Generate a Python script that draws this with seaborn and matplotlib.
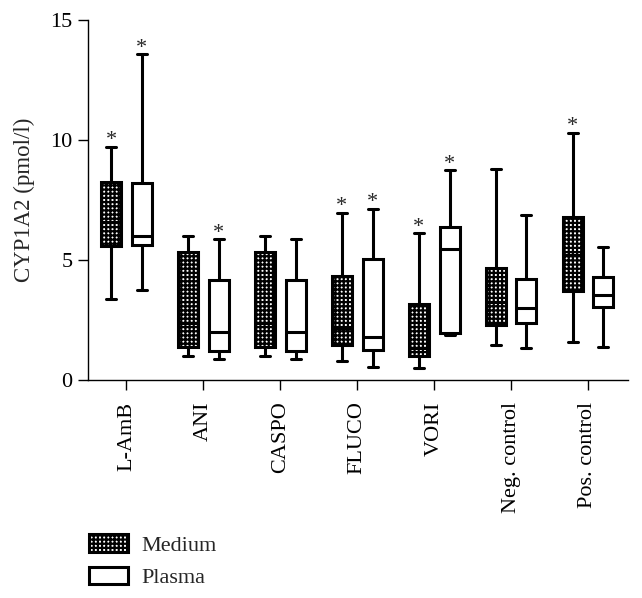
import pandas as pd
import numpy as np
import matplotlib
matplotlib.use('Agg')
import matplotlib.pyplot as plt
from matplotlib.patches import Patch
import seaborn as sns

# five-number summaries: min, q1, median, q3, max
drugs = ['L-AmB', 'ANI', 'CASPO', 'FLUCO', 'VORI', 'Neg. control', 'Pos. control']
groups = ['Medium', 'Plasma']

medium_stats = [
    [3.36, 5.58, 6.60, 8.26, 9.72],
    [1.00, 1.39, 2.36, 5.32, 6.01],
    [1.00, 1.39, 2.36, 5.32, 6.01],
    [0.80, 1.46, 2.15, 4.33, 6.97],
    [0.51, 1.01, 1.35, 3.17, 6.11],
    [1.46, 2.29, 3.26, 4.65, 8.79],
    [1.60, 3.72, 5.21, 6.78, 10.31],
]
plasma_stats = [
    [3.75, 5.62, 6.01, 8.19, 13.57],
    [0.86, 1.22, 2.01, 4.17, 5.86],
    [0.86, 1.22, 2.01, 4.17, 5.86],
    [0.56, 1.25, 1.81, 5.03, 7.14],
    [1.86, 1.94, 5.44, 6.39, 8.74],
    [1.32, 2.36, 3.00, 4.19, 6.89],
    [1.39, 3.03, 3.54, 4.31, 5.56],
]
# significance markers (*) above the top whisker
medium_sig = [True, False, False, True, True, False, True]
plasma_sig = [True, True, False, True, True, False, False]

# build long-form table
rows = []
for d, ms, ps in zip(drugs, medium_stats, plasma_stats):
    for v in ms:
        rows.append({'drug': d, 'group': 'Medium', 'value': v})
    for v in ps:
        rows.append({'drug': d, 'group': 'Plasma', 'value': v})
df = pd.DataFrame(rows)

sns.set_style('ticks')
plt.rcParams['font.family'] = ['Liberation Serif', 'DejaVu Serif']
plt.rcParams['hatch.linewidth'] = 1.6
plt.rcParams['hatch.color'] = 'black'

fig = plt.figure(figsize=(6.42, 5.98), dpi=100)
ax = fig.add_axes([88 / 642, 1 - 380 / 598, 540 / 642, 360 / 598])

sns.boxplot(data=df, x='drug', y='value', hue='group', order=drugs, hue_order=groups,
            palette={'Medium': 'white', 'Plasma': 'white'}, linecolor='black',
            linewidth=2.2, whis=(0, 100), width=0.8, gap=0.35, fliersize=0,
            legend=False, ax=ax)

# checkered look for the Medium boxes
for p in ax.patches:
    verts = p.get_path().vertices
    xc = verts[:, 0].mean()
    if xc < round(xc):
        p.set_hatch('++++')
    p.set_edgecolor('black')

offset = 0.2
for i, d in enumerate(drugs):
    if medium_sig[i]:
        ax.text(i - offset, medium_stats[i][-1] - 0.15, '*', ha='center', va='bottom', fontsize=16)
    if plasma_sig[i]:
        ax.text(i + offset, plasma_stats[i][-1] - 0.15, '*', ha='center', va='bottom', fontsize=16)

ax.set_ylim(0, 15)
ax.set_xlim(-0.5, 6.52)
ax.set_yticks([0, 5, 10, 15])
ax.set_xlabel('')
ax.set_ylabel('CYP1A2 (pmol/l)', fontsize=16.5)
ax.yaxis.set_label_coords(-0.098, 0.5)
sns.despine(ax=ax)
for s in ['left', 'bottom']:
    ax.spines[s].set_linewidth(1.0)
    ax.spines[s].set_color('black')
ax.tick_params(axis='both', length=7.5, width=1.0, color='black', labelsize=16, labelcolor='black')
ax.tick_params(axis='x', rotation=90, pad=8)

handles = [Patch(facecolor='white', edgecolor='black', hatch='++++', linewidth=2.2, label='Medium'),
           Patch(facecolor='white', edgecolor='black', linewidth=2.2, label='Plasma')]
fig.legend(handles=handles, loc='upper left', bbox_to_anchor=(89 / 642, 1 - 534 / 598),
           frameon=False, fontsize=16, handlelength=1.75, handleheight=0.85,
           handletextpad=0.6, labelspacing=0.5, borderpad=0, borderaxespad=0)

fig.savefig('out.png', dpi=100)
